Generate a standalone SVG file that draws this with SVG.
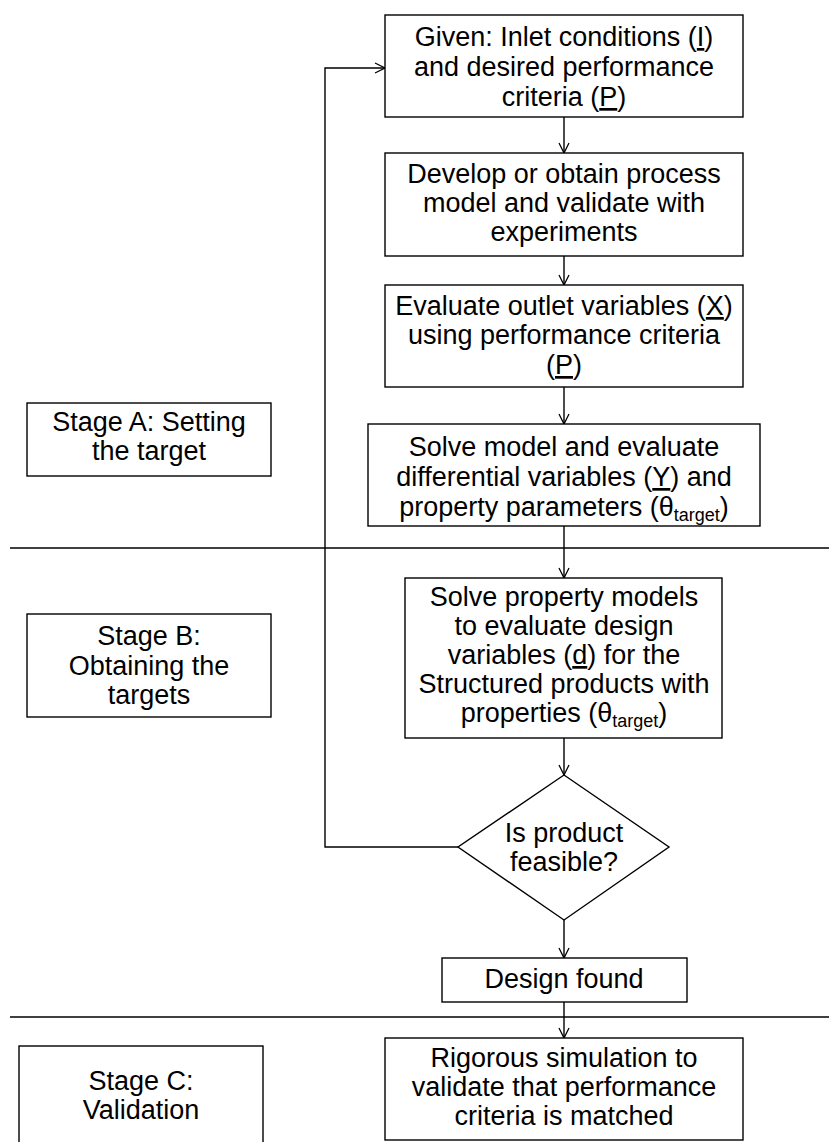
<svg xmlns="http://www.w3.org/2000/svg" width="829" height="1142" viewBox="0 0 829 1142">
  <defs>
    <marker id="arr" viewBox="0 0 12 12" refX="11" refY="6" markerWidth="12" markerHeight="12" markerUnits="userSpaceOnUse" orient="auto">
      <path d="M1,1 L11,6 L1,11" fill="none" stroke="#000" stroke-width="1.3"/>
    </marker>
    <style>
      .box { fill: #fff; stroke: #000; stroke-width: 1.4; }
      .t { font-family: "Liberation Sans", Arial, sans-serif; font-size: 27px; fill: #000; text-anchor: middle; }
      .u { text-decoration: underline; }
      .sub { font-size: 18px; }
      .conn { fill: none; stroke: #000; stroke-width: 1.4; }
      .div { stroke: #000; stroke-width: 1.4; }
    </style>
  </defs>

  <rect width="829" height="1142" fill="#fff"/>

  <!-- stage dividers -->
  <g id="dividers">
    <line class="div" x1="10" y1="548" x2="829" y2="548"/>
    <line class="div" x1="10" y1="1017" x2="829" y2="1017"/>
  </g>

  <!-- connectors -->
  <g id="connectors">
    <line class="conn" x1="564" y1="117" x2="564" y2="153" marker-end="url(#arr)"/>
    <line class="conn" x1="564" y1="256" x2="564" y2="285" marker-end="url(#arr)"/>
    <line class="conn" x1="564" y1="387" x2="564" y2="424" marker-end="url(#arr)"/>
    <line class="conn" x1="564" y1="526" x2="564" y2="578" marker-end="url(#arr)"/>
    <line class="conn" x1="564" y1="738" x2="564" y2="775" marker-end="url(#arr)"/>
    <line class="conn" x1="564" y1="920" x2="564" y2="958" marker-end="url(#arr)"/>
    <line class="conn" x1="564" y1="1002" x2="564" y2="1038" marker-end="url(#arr)"/>
    <polyline class="conn" points="458,847 325,847 325,68 385,68" marker-end="url(#arr)"/>
  </g>

  <g id="given">
    <rect class="box" x="385" y="15" width="358" height="102"/>
    <text class="t" x="564" y="46">Given: Inlet conditions (<tspan class="u">I</tspan>)</text>
    <text class="t" x="564" y="76">and desired performance</text>
    <text class="t" x="564" y="106">criteria (<tspan class="u">P</tspan>)</text>
  </g>

  <g id="develop">
    <rect class="box" x="385" y="153" width="358" height="103"/>
    <text class="t" x="564" y="183">Develop or obtain process</text>
    <text class="t" x="564" y="212">model and validate with</text>
    <text class="t" x="564" y="241">experiments</text>
  </g>

  <g id="evaluate">
    <rect class="box" x="385" y="285" width="358" height="102"/>
    <text class="t" x="564" y="315">Evaluate outlet variables (<tspan class="u">X</tspan>)</text>
    <text class="t" x="564" y="344">using performance criteria</text>
    <text class="t" x="564" y="374">(<tspan class="u">P</tspan>)</text>
  </g>

  <g id="solve-model">
    <rect class="box" x="368" y="424" width="392" height="102"/>
    <text class="t" x="564" y="456">Solve model and evaluate</text>
    <text class="t" x="564" y="486">differential variables (<tspan class="u">Y</tspan>) and</text>
    <text class="t" x="564" y="516">property parameters (θ<tspan class="sub" dy="5">target</tspan><tspan dy="-5">)</tspan></text>
  </g>

  <g id="solve-property">
    <rect class="box" x="405" y="578" width="317" height="160"/>
    <text class="t" x="564" y="606">Solve property models</text>
    <text class="t" x="564" y="635">to evaluate design</text>
    <text class="t" x="564" y="664">variables (<tspan class="u">d</tspan>) for the</text>
    <text class="t" x="564" y="693">Structured products with</text>
    <text class="t" x="564" y="722">properties (θ<tspan class="sub" dy="5">target</tspan><tspan dy="-5">)</tspan></text>
  </g>

  <g id="feasible">
    <polygon class="box" points="564,775 669,847 564,920 458,847"/>
    <text class="t" x="564" y="842">Is product</text>
    <text class="t" x="564" y="871">feasible?</text>
  </g>

  <g id="design-found">
    <rect class="box" x="442" y="958" width="245" height="44"/>
    <text class="t" x="564" y="988">Design found</text>
  </g>

  <g id="rigorous">
    <rect class="box" x="385" y="1038" width="358" height="102"/>
    <text class="t" x="564" y="1067">Rigorous simulation to</text>
    <text class="t" x="564" y="1096">validate that performance</text>
    <text class="t" x="564" y="1125">criteria is matched</text>
  </g>

  <g id="stage-a">
    <rect class="box" x="27" y="403" width="244" height="73"/>
    <text class="t" x="149" y="431">Stage A: Setting</text>
    <text class="t" x="149" y="460">the target</text>
  </g>

  <g id="stage-b">
    <rect class="box" x="27" y="614" width="244" height="103"/>
    <text class="t" x="149" y="645">Stage B:</text>
    <text class="t" x="149" y="675">Obtaining the</text>
    <text class="t" x="149" y="704">targets</text>
  </g>

  <g id="stage-c">
    <rect class="box" x="19" y="1046" width="244" height="110"/>
    <text class="t" x="141" y="1090">Stage C:</text>
    <text class="t" x="141" y="1119">Validation</text>
  </g>
</svg>
